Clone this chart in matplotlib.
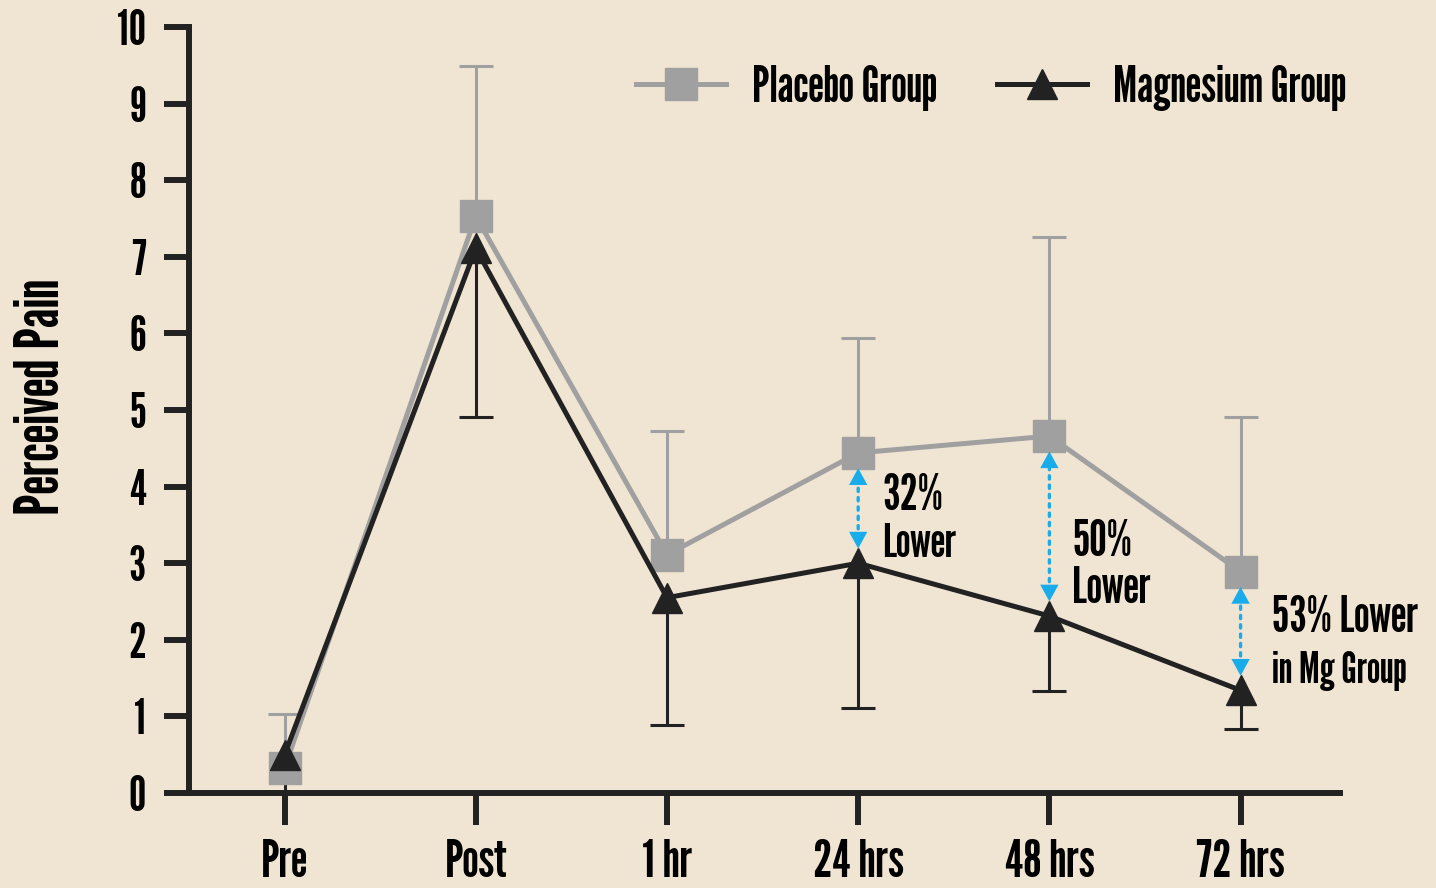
import matplotlib
matplotlib.use("Agg")
import matplotlib.pyplot as plt
import numpy as np

# data
timepoints = ["Pre", "Post", "1 hr", "24 hrs", "48 hrs", "72 hrs"]
placebo = [0.33, 7.53, 3.11, 4.44, 4.66, 2.89]
placebo_upper = [1.03, 9.49, 4.73, 5.94, 7.26, 4.91]
magnesium = [0.50, 7.11, 2.55, 3.00, 2.31, 1.34]
magnesium_lower = [0.0, 4.91, 0.89, 1.11, 1.33, 0.84]

bg = "#F0E5D3"
gray = "#A0A0A0"
dark = "#222222"
blue = "#18ACEB"

plt.rcParams["font.family"] = ["League Gothic", "Oswald", "DejaVu Sans"]

fig = plt.figure(figsize=(14.36, 8.88), dpi=100, facecolor=bg)
ax = fig.add_axes([189 / 1436, 1 - 793 / 888, (1340 - 189) / 1436, (793 - 27) / 888])
ax.set_facecolor(bg)

x = np.arange(len(timepoints))

# error bars: placebo upper only, magnesium lower only
ax.vlines(x, placebo, placebo_upper, color=gray, lw=2.2, zorder=2)
ax.plot(x, placebo_upper, ls="none", marker="_", ms=24, mew=2.2, color=gray, zorder=2)
ax.vlines(x, magnesium_lower, magnesium, color=dark, lw=2.2, zorder=2)
ax.plot(x, magnesium_lower, ls="none", marker="_", ms=24, mew=2.2, color=dark, zorder=2)

ax.plot(x, placebo, color=gray, lw=3.6, marker="s", ms=23, mec=gray, mfc=gray,
        label="Placebo Group", zorder=3)
ax.plot(x, magnesium, color=dark, lw=3.6, marker="^", ms=22, mec=dark, mfc=dark,
        label="Magnesium Group", zorder=4)

# blue dotted double arrows between the groups: dotted shaft + solid heads
for i in [3, 4, 5]:
    ax.annotate("", xy=(i, placebo[i]), xytext=(i, magnesium[i]),
                arrowprops=dict(arrowstyle="-", color=blue, lw=2.4, ls=(0, (1, 1.8)),
                                shrinkA=18, shrinkB=18), zorder=5)
    ax.annotate("", xy=(i, placebo[i]), xytext=(i, magnesium[i]),
                arrowprops=dict(arrowstyle="<|-|>,head_length=0.55,head_width=0.3",
                                fc=blue, ec="none", lw=0, mutation_scale=22,
                                shrinkA=10.5, shrinkB=11), zorder=5)

ax.text(3.126, 3.69, "32%", fontsize=36, va="baseline", ha="left")
ax.text(3.126, 3.08, "Lower", fontsize=34, va="baseline", ha="left")
ax.text(4.119, 3.09, "50%", fontsize=36, va="baseline", ha="left")
ax.text(4.119, 2.48, "Lower", fontsize=36, va="baseline", ha="left")
ax.text(5.165, 2.10, "53% Lower", fontsize=36, va="baseline", ha="left")
ax.text(5.165, 1.44, "in Mg Group", fontsize=31, va="baseline", ha="left")

ax.set_xlim(-0.5, 5.52)
ax.set_ylim(0, 10)
ax.set_yticks(range(0, 11))
ax.set_xticks(x)
ax.set_xticklabels(timepoints)

for s in ["top", "right"]:
    ax.spines[s].set_visible(False)
for s in ["left", "bottom"]:
    ax.spines[s].set_linewidth(4.3)
    ax.spines[s].set_color(dark)

ax.tick_params(axis="y", length=18, width=4.3, color=dark, labelsize=35, pad=13)
ax.tick_params(axis="x", length=23, width=4.3, color=dark, labelsize=38, pad=10)

fig.text(43 / 1436, 1 - 397 / 888, "Perceived Pain", rotation=90, fontsize=44,
         ha="center", va="center")

ax.legend(loc="center right", bbox_to_anchor=(1346 / 1436, 1 - 88 / 888),
          bbox_transform=fig.transFigure, ncol=2, frameon=False, fontsize=36,
          handlelength=1.8, handletextpad=0.52, columnspacing=1.2,
          borderpad=0, borderaxespad=0)

fig.savefig("out.png", dpi=100, facecolor=bg)
